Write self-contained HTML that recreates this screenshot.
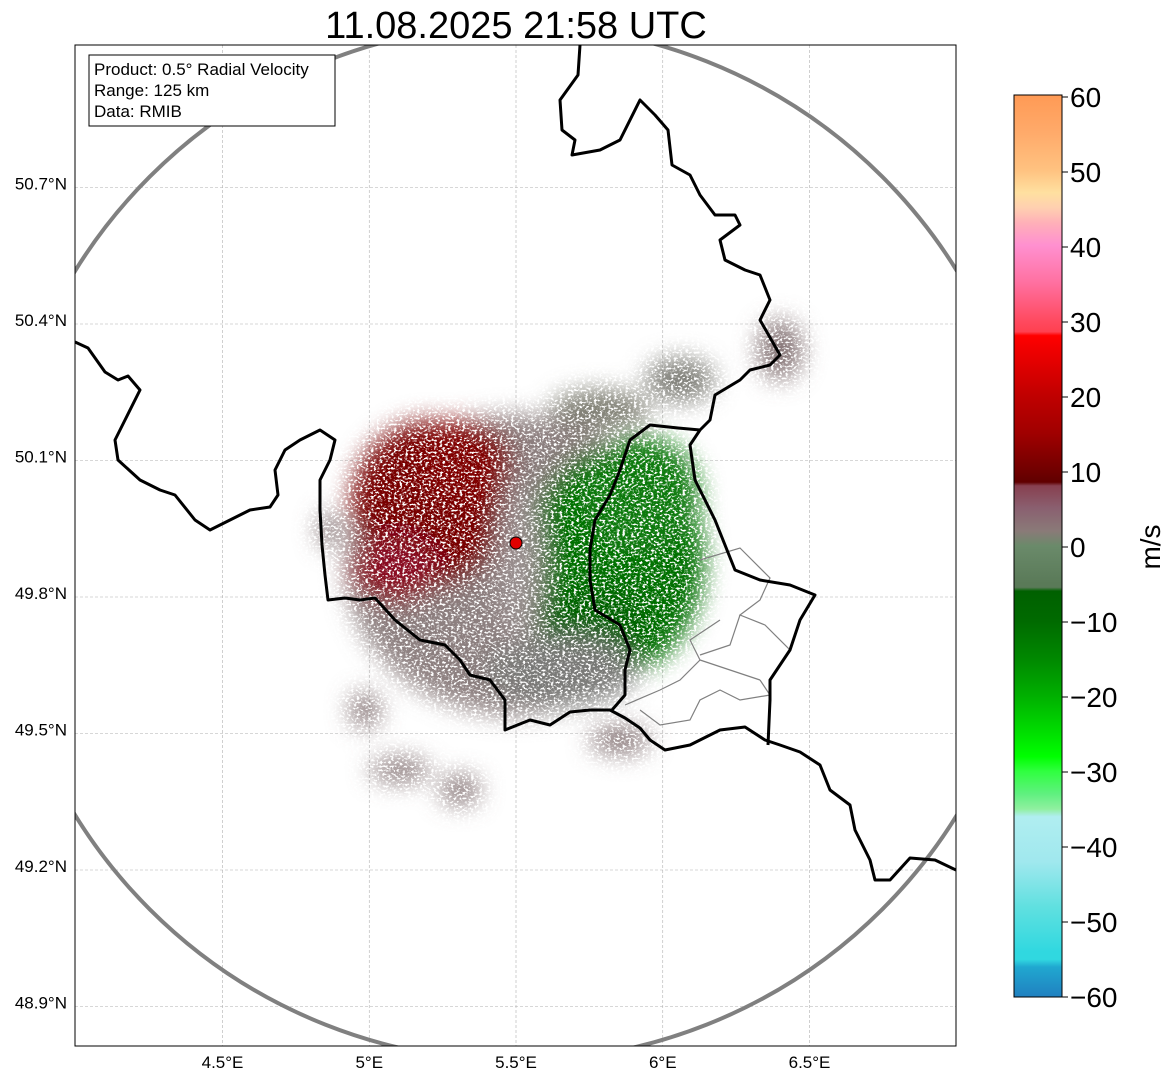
<!DOCTYPE html>
<html><head><meta charset="utf-8"><style>
html,body{margin:0;padding:0;background:#fff;}
svg{display:block;font-family:"Liberation Sans",sans-serif;}
</style></head><body>
<svg id="chart" width="1171" height="1081" viewBox="0 0 1171 1081">
<defs>
<clipPath id="plotclip"><rect x="75" y="45" width="881" height="1001"/></clipPath>
<filter id="speck" filterUnits="userSpaceOnUse" x="0" y="0" width="1171" height="1081">
<feTurbulence type="fractalNoise" baseFrequency="0.35 0.5" numOctaves="2" seed="4" result="n"/>
<feColorMatrix in="n" type="matrix" values="0 0 0 0 0  0 0 0 0 0  0 0 0 0 0  0 0 0 -7 4.6" result="m"/>
<feComposite in="SourceGraphic" in2="m" operator="in"/>
</filter>
<filter id="blur" filterUnits="userSpaceOnUse" x="0" y="0" width="1171" height="1081"><feGaussianBlur stdDeviation="12"/></filter>
<linearGradient id="cbgrad" x1="0" y1="0" x2="0" y2="1"></linearGradient>
</defs>
<text x="516" y="38" font-size="38" text-anchor="middle" fill="#000">11.08.2025 21:58 UTC</text>
<g clip-path="url(#plotclip)">
<rect x="75" y="45" width="881" height="1001" fill="#fff"/>
<g id="grid"></g>
<g filter="url(#speck)">
<g filter="url(#blur)">
<ellipse cx="515" cy="565" rx="170" ry="150" fill="#8c7f7f"/>
<ellipse cx="430" cy="505" rx="80" ry="85" fill="#780000"/>
<ellipse cx="395" cy="570" rx="45" ry="35" fill="#8a1020"/>
<ellipse cx="465" cy="460" rx="50" ry="40" fill="#800000"/>
<ellipse cx="615" cy="560" rx="90" ry="115" fill="#007000"/>
<ellipse cx="640" cy="495" rx="60" ry="60" fill="#107a10"/>
<ellipse cx="590" cy="625" rx="55" ry="35" fill="#006000"/>
<ellipse cx="600" cy="410" rx="50" ry="20" fill="#7c7c70"/>
<ellipse cx="560" cy="672" rx="75" ry="35" fill="#7a7a78"/>
<ellipse cx="680" cy="380" rx="35" ry="22" fill="#7c7c74"/>
<ellipse cx="520" cy="565" rx="22" ry="80" fill="#9a9090"/>
</g>
</g>
<g filter="url(#speck)">
<g filter="url(#blur)" fill="#806e70">
<ellipse cx="400" cy="770" rx="30" ry="12"/><ellipse cx="460" cy="790" rx="20" ry="15"/>
<ellipse cx="365" cy="710" rx="15" ry="18"/><ellipse cx="780" cy="350" rx="22" ry="30"/>
<ellipse cx="620" cy="740" rx="30" ry="14"/><ellipse cx="330" cy="530" rx="12" ry="18"/>
</g></g>
<circle cx="516" cy="543" r="518" fill="none" stroke="#808080" stroke-width="4"/>
<g fill="none" stroke="#808080" stroke-width="1.2">
<path d="M700,560 L740,548 L770,578 L760,600 L740,615 L765,625 L790,650 L770,680 M720,620 L690,640 L700,660 L680,680 L660,690 M700,660 L730,670 L760,680 M625,705 L660,690 M740,615 L730,645 L700,655 M760,680 L770,695 L740,700 L720,690 L700,700 L690,720 L660,725 L640,710"/>
</g>
<g fill="none" stroke="#000" stroke-width="3" stroke-linejoin="round">
<path d="M75,342 L88,348 L105,372 L118,380 L128,376 L140,390 L125,420 L115,440 L118,460 L140,480 L160,490 L175,495 L195,520 L210,530 L230,520 L250,510 L270,507 L278,495 L275,470 L285,450 L300,440 L320,430 L335,440 L330,460 L320,480 L320,510 L322,545 L325,575 L328,600 L345,598 L360,600 L375,598 L395,620 L420,640 L445,645 L460,660 L470,675 L490,680 L505,700 L505,730 L530,720 L550,725 L570,712 L590,710 L610,710 L625,718 L640,728 L650,740 L665,750 L690,745 L720,730 L745,727 L765,740 L780,745 L800,752 L820,765 L830,790 L850,805 L855,830 L870,860 L875,880 L890,880 L910,858 L935,860 L956,870"/>
<path d="M580,45 L578,75 L560,100 L562,130 L575,140 L572,155 L600,150 L620,140 L640,100 L655,115 L668,130 L672,165 L690,175 L700,195 L715,215 L735,215 L740,225 L720,240 L725,260 L745,270 L760,275 L770,300 L760,320 L780,355 L770,365 L750,370 L740,380 L715,395 L710,420 L700,430 L690,445 L695,480 L705,500 L715,520 L725,545 L735,570 L760,580 L790,585 L815,595 L800,620 L790,650 L770,680 L770,700 L768,745"/>
<path d="M700,430 L678,428 L650,425 L630,440 L620,470 L610,495 L595,520 L590,550 L590,580 L595,610 L620,625 L630,650 L625,670 L625,695 L612,710"/>
</g>
<circle cx="516" cy="543" r="6" fill="#e00000" stroke="#000" stroke-width="1"/>
</g>
<rect x="75" y="45" width="881" height="1001" fill="none" stroke="#000" stroke-width="1"/>
<g id="xaxis"></g>
<g id="yaxis"></g>
<g>
<rect x="89" y="55" width="246" height="71" fill="#fff" stroke="#000" stroke-width="1"/>
<text x="94" y="75" font-size="17">Product: 0.5° Radial Velocity</text>
<text x="94" y="96" font-size="17">Range: 125 km</text>
<text x="94" y="117" font-size="17">Data: RMIB</text>
</g>
<g id="colorbar">
<rect x="1014" y="95" width="48" height="902" fill="url(#cbgrad)" stroke="#000" stroke-width="1"/>
</g>
<text transform="translate(1160,547) rotate(-90)" font-size="28" text-anchor="middle">m/s</text>
</svg>
<script>
const lonTicks=[4.5,5,5.5,6,6.5];
const lonLabels=["4.5°E","5°E","5.5°E","6°E","6.5°E"];
const latTicks=[50.7,50.4,50.1,49.8,49.5,49.2,48.9];
const latLabels=["50.7°N","50.4°N","50.1°N","49.8°N","49.5°N","49.2°N","48.9°N"];
const cbTicks=[60,50,40,30,20,10,0,-10,-20,-30,-40,-50,-60];
const cbValues=[60,55,50,47,45,43,40,35,30,28.5,28,20,15,10,8.5,8,5,2,0,-5,-5.5,-6,-10,-15,-20,-25,-28,-30,-33,-35,-36,-42,-48,-54,-55,-56,-60];
const cbColors=["#ff9a55","#ffaa6a","#ffc280","#ffe0a0","#ffd0b0","#ffb0b8","#ff90d0","#ff70a0","#ff4a60","#ff4050","#ff0000","#c00000","#a00000","#700000","#600000","#884050","#8a6070","#8a7a78","#6a8a6a","#5a7a58","#5a7a58","#006000","#006a00","#008800","#00b000","#00e000","#00ff00","#30ff40","#60f080","#90f0a0","#b0eef0","#a0e8ee","#60e0e0","#30d8e0","#30d8e0","#20a8d0","#2080c0"];
const NS="http://www.w3.org/2000/svg";
const xS=v=>516+(v-5.5)*293.5;
const yS=v=>597-(v-49.8)*455;
const cS=v=>997-(v+60)*7.5;
function mk(t,a,p){const e=document.createElementNS(NS,t);for(const k in a)e.setAttribute(k,a[k]);p.appendChild(e);return e;}
const grid=document.getElementById('grid');
const xa=document.getElementById('xaxis');
const ya=document.getElementById('yaxis');
lonTicks.forEach((v,i)=>{
 const x=xS(v);
 const g=mk('line',{x1:x,x2:x,y1:45,y2:1046,stroke:'#b0b0b0','stroke-width':0.6,'stroke-dasharray':'3,2'},grid);
 
 
 const t=mk('text',{x:x,y:1068,'font-size':17,'text-anchor':'middle'},xa);
 t.textContent=lonLabels[i];
 
 
});
latTicks.forEach((v,i)=>{
 const y=yS(v);
 const g=mk('line',{x1:75,x2:956,y1:y,y2:y,stroke:'#b0b0b0','stroke-width':0.6,'stroke-dasharray':'3,2'},grid);
 
 
 const t=mk('text',{x:67,y:y+2,'font-size':17,'text-anchor':'end'},ya);
 t.textContent=latLabels[i];
 
 
});
const grad=document.getElementById('cbgrad');
cbValues.forEach((v,i)=>{
 mk('stop',{offset:((60-v)/120).toFixed(4),'stop-color':cbColors[i]},grad);
});
const cb=document.getElementById('colorbar');
cbTicks.forEach(v=>{
 const y=cS(v);
 mk('line',{x1:1062,x2:1068,y1:y,y2:y,stroke:'#000','stroke-width':1},cb);
 const t=mk('text',{x:1070,y:y+10,'font-size':28},cb);
 t.textContent=v<0?'\u2212'+Math.abs(v):String(v);
 
 
});
</script>
</body></html>
